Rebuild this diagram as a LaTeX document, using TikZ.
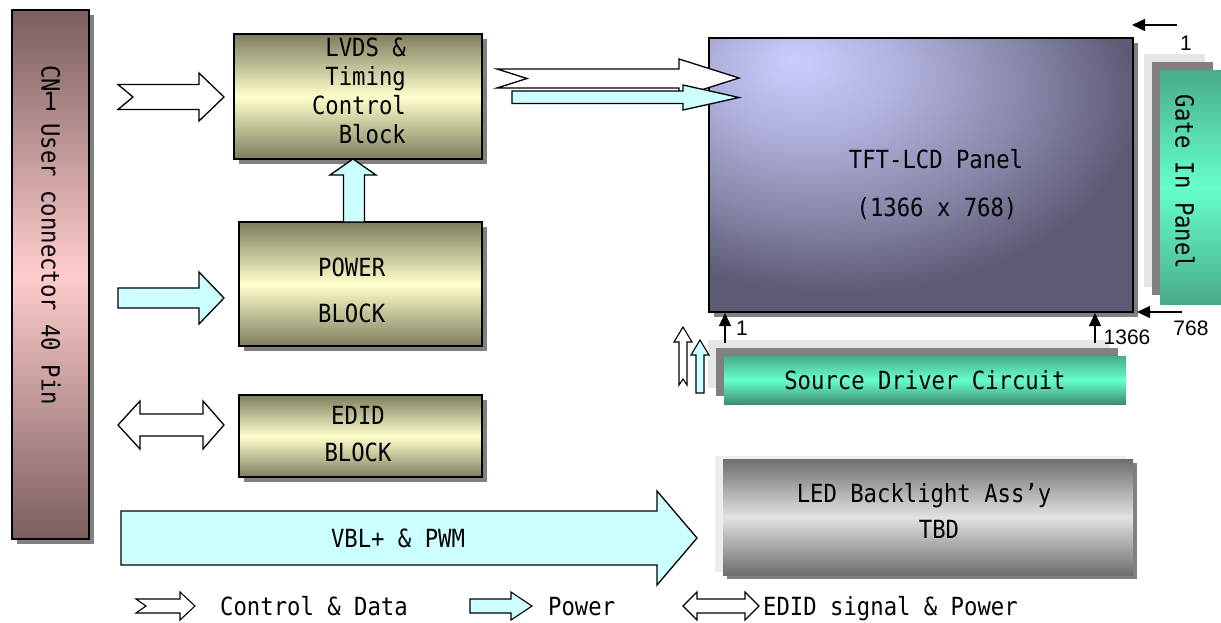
\documentclass[tikz,border=0pt]{standalone}
\usepackage{fontspec}
\usetikzlibrary{shadows,arrows.meta}
\newfontfamily\gulim[FakeStretch=0.89]{DejaVu Sans Mono}
\newfontfamily\arial{Liberation Sans}
\definecolor{shgray}{HTML}{808080}
\definecolor{lgray}{HTML}{E6E6E6}
\definecolor{olivedk}{HTML}{7E7E60}
\definecolor{olivelt}{HTML}{FFFFCC}
\definecolor{cnpinkdk}{HTML}{7A5E5E}
\definecolor{cnpinklt}{HTML}{FFCCCC}
\definecolor{powcyan}{HTML}{CCFFFF}
\definecolor{grndk}{HTML}{48AC8A}
\definecolor{grndkb}{HTML}{3F8E72}
\definecolor{grnlt}{HTML}{66FFCC}
\definecolor{leddk}{HTML}{6E6E6E}
\definecolor{ledlt}{HTML}{E2E2E2}
\definecolor{panA}{HTML}{CCCCFF}
\definecolor{panB}{HTML}{B4B4E2}
\definecolor{panC}{HTML}{8A8AAC}
\definecolor{panD}{HTML}{5C5C76}
\pgfdeclareradialshading{panelshade}{\pgfpoint{-15bp}{21bp}}{color(0bp)=(panA); color(10bp)=(panB); color(23bp)=(panC); color(35bp)=(panD); color(100bp)=(panD)}
\begin{document}
\begin{tikzpicture}[x=1pt,y=-1pt,
  shadowed/.style={drop shadow={shadow xshift=5pt,shadow yshift=-5pt,fill=shgray,opacity=1}},
  blockbox/.style={shadowed, draw=black, line width=1.5pt, inner sep=0pt, top color=olivedk, bottom color=olivedk, middle color=olivelt},
  lbl/.style={font=\gulim\fontsize{25}{28}\selectfont, inner sep=0pt},
  numlbl/.style={font=\arial\fontsize{21}{24}\selectfont, inner sep=0pt},
  ctrlarrow/.style={draw=black, line width=1.3pt, fill=white, line join=miter},
  powarrow/.style={draw=black, line width=1.3pt, fill=powcyan, line join=miter},
  pinarrow/.style={line width=1.3pt, -{Triangle[length=13pt,width=12pt]}}]
\path[use as bounding box] (0,0) rectangle (1221,622);
\fill[white] (0,0) rectangle (1221,622);

% ---------- CN1 connector ----------
\node[blockbox, top color=cnpinkdk, bottom color=cnpinkdk, middle color=cnpinklt,
      minimum width=77pt, minimum height=529pt] (cn) at (50.5,274.5) {};
\node[lbl, rotate=-90] (cntext) at (51,235) {CN\raisebox{2pt}{\rotatebox{90}{1}} User connector 40 Pin};

% ---------- left blocks ----------
\node[blockbox, minimum width=248pt, minimum height=125pt] (lvds) at (358,96.5) {};
\node[lbl, anchor=base east] (lvA) at (406,56) {LVDS \&};
\node[lbl, anchor=base east] (lvB) at (406,85) {Timing};
\node[lbl, anchor=base east] (lvC) at (406,114) {Control};
\node[lbl, anchor=base east] (lvD) at (406,143) {Block};

\node[blockbox, minimum width=243pt, minimum height=124pt] (power) at (360.5,284) {};
\node[lbl, anchor=base west] (pwA) at (318,276) {POWER};
\node[lbl, anchor=base west] (pwB) at (318,322) {BLOCK};

\node[blockbox, minimum width=243pt, minimum height=82pt] (edid) at (360.5,436) {};
\node[lbl, anchor=base] (edA) at (358,424) {EDID};
\node[lbl, anchor=base] (edB) at (358,461) {BLOCK};

% ---------- block arrows on the left ----------
\draw[ctrlarrow] (118,84.5) -- (199,84.5) -- (199,73) -- (224,97) -- (199,121) -- (199,109.5) -- (118,109.5) -- (133,97) -- cycle;
\draw[powarrow] (118,288) -- (199,288) -- (199,272) -- (224,298) -- (199,324) -- (199,308) -- (118,308) -- cycle;
\draw[ctrlarrow] (118,425) -- (140,401) -- (140,414) -- (203,414) -- (203,401) -- (224,425) -- (203,449) -- (203,436) -- (140,436) -- (140,449) -- cycle;
\draw[powarrow] (343.5,222) -- (343.5,175) -- (330,175) -- (353,159) -- (376,175) -- (364.5,175) -- (364.5,222) -- cycle;

% VBL arrow
\draw[powarrow] (121,511) -- (657,511) -- (657,491) -- (697,538) -- (657,585) -- (657,565) -- (121,565) -- cycle;
\node[lbl, anchor=base] (vbl) at (398,547) {VBL+ \& PWM};

% ---------- TFT panel ----------
\node[shadowed, draw=black, line width=1.5pt, shading=panelshade, minimum width=424pt, minimum height=274pt, inner sep=0pt] (panel) at (921,175) {};
\node[lbl, anchor=base] (pnA) at (936,168) {TFT-LCD Panel};
\node[lbl, anchor=base] (pnB) at (937,216) {(1366 x 768)};

% arrows into panel
\draw[ctrlarrow] (497,69) -- (679,69) -- (679,59) -- (739,78) -- (679,97) -- (679,88) -- (497,88) -- (527,78.5) -- cycle;
\draw[powarrow] (512,91) -- (683,91) -- (683,85) -- (739,97.5) -- (683,110) -- (683,103.5) -- (512,103.5) -- cycle;

% ---------- gate in panel ----------
\fill[lgray] (1144,54) rectangle (1205,287);
\fill[shgray] (1152,62) rectangle (1213,295);
\node[top color=grndk, bottom color=grndk, middle color=grnlt, minimum width=61pt, minimum height=234pt, inner sep=0pt] (gate) at (1190.5,187) {};
\node[lbl, rotate=-90] (gatetext) at (1185,182) {Gate In Panel};

\coordinate (gTs) at (1177,25);
\coordinate (gTe) at (1132,25);
\draw[pinarrow] (gTs) -- (gTe);
\node[numlbl] (g1) at (1186,43) {1};
\coordinate (gBs) at (1182,312);
\coordinate (gBe) at (1137,312);
\draw[pinarrow] (gBs) -- (gBe);
\node[numlbl] (g768) at (1191,328) {768};

% ---------- source driver ----------
\fill[lgray] (708,340) rectangle (1110,388);
\fill[shgray] (716,348) rectangle (1118,396);
\node[lbl, top color=grndk, bottom color=grndkb, middle color=grnlt, minimum width=402pt, minimum height=48pt] (src) at (925,380) {Source Driver Circuit};

\coordinate (sAs) at (725,343);
\coordinate (sAe) at (725,313);
\draw[pinarrow] (sAs) -- (sAe);
\node[numlbl] (s1) at (742,328) {1};
\coordinate (sBs) at (1095,343);
\coordinate (sBe) at (1095,313);
\draw[pinarrow] (sBs) -- (sBe);
\node[numlbl] (s1366) at (1127,337) {1366};

\draw[ctrlarrow, line width=1.1pt] (679,385) -- (679,342) -- (674,342) -- (683,327) -- (692,342) -- (687,342) -- (687,385) -- (683,379) -- cycle;
\draw[powarrow, line width=1.1pt] (696,393) -- (696,355) -- (691,355) -- (700,340) -- (709,355) -- (704,355) -- (704,393) -- cycle;

% ---------- LED backlight ----------
\fill[lgray!70] (715,456) rectangle (1126,572);
\node[drop shadow={shadow xshift=4pt,shadow yshift=-4pt,fill=shgray,opacity=1}, top color=leddk, bottom color=leddk, middle color=ledlt, minimum width=410pt, minimum height=116pt, inner sep=0pt] (led) at (928,517) {};
\node[lbl, anchor=base] (ledA) at (924,502) {LED Backlight Ass’y};
\node[lbl, anchor=base] (ledB) at (939,538) {TBD};

% ---------- legend ----------
\draw[ctrlarrow, line width=1.1pt] (136,599) -- (180,599) -- (180,592) -- (195,606) -- (180,620) -- (180,613) -- (136,613) -- (146,606) -- cycle;
\node[lbl, anchor=base west] (lgA) at (220,615) {Control \& Data};
\draw[powarrow, line width=1.1pt] (470,599) -- (511,599) -- (511,592) -- (532,606) -- (511,620) -- (511,613) -- (470,613) -- cycle;
\node[lbl, anchor=base west] (lgB) at (548,615) {Power};
\draw[ctrlarrow, line width=1.1pt] (683,606) -- (697,592) -- (697,599) -- (745,599) -- (745,592) -- (759,606) -- (745,620) -- (745,613) -- (697,613) -- (697,620) -- cycle;
\node[lbl, anchor=base west] (lgC) at (763,615) {EDID signal \& Power};
\end{tikzpicture}
\end{document}
